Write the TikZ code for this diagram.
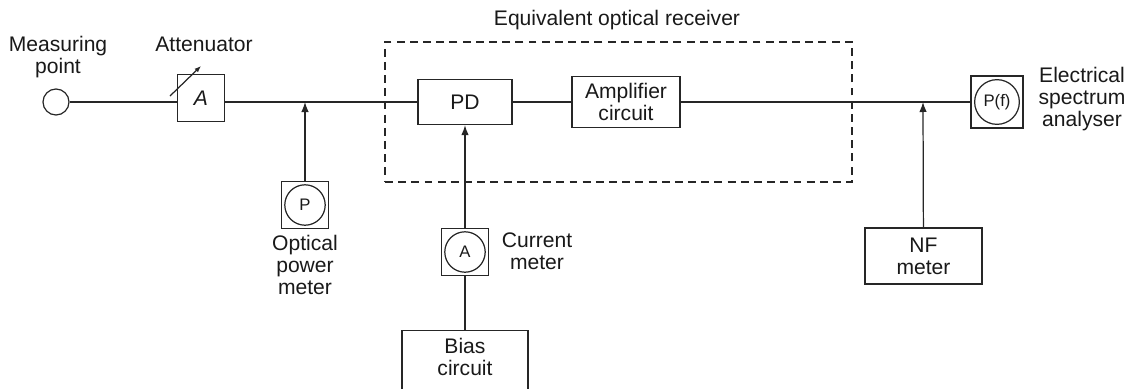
\documentclass[tikz,border=0pt]{standalone}
\usepackage{fontspec}
\setmainfont{Liberation Sans}
\usetikzlibrary{calc,arrows.meta}
\usetikzlibrary{positioning}

\begin{document}
\begin{tikzpicture}[
    x=0.02cm, y=-0.02cm,
    every node/.style={font=\fontsize{12}{12.6}\selectfont, align=center, text=black!90},
    box style/.style={draw=black!85, line width=0.7pt, inner sep=0pt},
    meter style/.style={box style, minimum size=#1, font=\fontsize{9.5}{11}\selectfont,
        path picture={\draw[black!85, line width=0.7pt] (path picture bounding box.center) circle (0.43*#1);}},
    meter style/.default=0.94cm,
    wire/.style={draw=black!85, line width=0.7pt},
    arrow/.style={wire, -{Latex[length=2mm, width=1.5mm]}}
]

% FIXED BOUNDING BOX (picture size 1130 x 389)
\path[use as bounding box, clip] (0,0) rectangle (1130,389);

\node[draw=black!85, line width=0.7pt, circle, minimum size=0.52cm, inner sep=0pt] (mp) at (56,102) {};
\node (mplabel) at (58,57) {Measuring\\point};

\node[box style, minimum size=0.94cm] (att) at (201,98) {\textit{A}};
\node (attlabel) at (204,44) {Attenuator};
\coordinate (att1) at (170,96);
\coordinate (att2) at (201,66);

\coordinate (j1) at (305,102);
\node[meter style] (opm) at (305,205) {P};
\node (opmlabel) at (305,265) {Optical\\power\\meter};

\node[draw=black!85, line width=0.7pt, dash pattern=on 4.5pt off 3pt,
      minimum width=9.34cm, minimum height=2.8cm] (eor) at (618.5,112) {};
\node (eorlabel) at (617,20) {Equivalent optical receiver};

\node[box style, minimum width=1.88cm, minimum height=0.9cm] (pd) at (465,102) {PD};
\node[box style, minimum width=2.16cm, minimum height=1.02cm] (amp) at (626,102) {Amplifier\\circuit};

\node[meter style] (am) at (465,252) {A};
\node (amlabel) at (537,251) {Current\\meter};
\node[box style, anchor=north, minimum width=2.52cm, minimum height=1.4cm] (bias) at (465,330) {};
\node (biaslabel) at (465,357) {Bias\\circuit};

\coordinate (j2) at (923,102);
\node[box style, minimum width=2.34cm, minimum height=1.12cm] (nf) at (923.5,256) {NF\\meter};
\node[meter style=1.04cm] (esa) at (997,102) {P(f)};
\node (esalabel) at (1082,99) {Electrical\\spectrum\\analyser};

\path[wire] (mp) -- (mp -| att.west);
\path[wire] (att.east |- mp) -- (pd);
\path[wire] (pd) -- (amp);
\path[wire] (amp) -- (esa);
\path[wire] (bias) -- (am);
\path[arrow] (opm) -- (j1);
\path[arrow] (am) -- (pd);
\path[arrow] (nf) -- (j2);
\path[wire, -{Latex[length=1.3mm, width=1mm]}] (att1) -- (att2);

\end{tikzpicture}
\end{document}
